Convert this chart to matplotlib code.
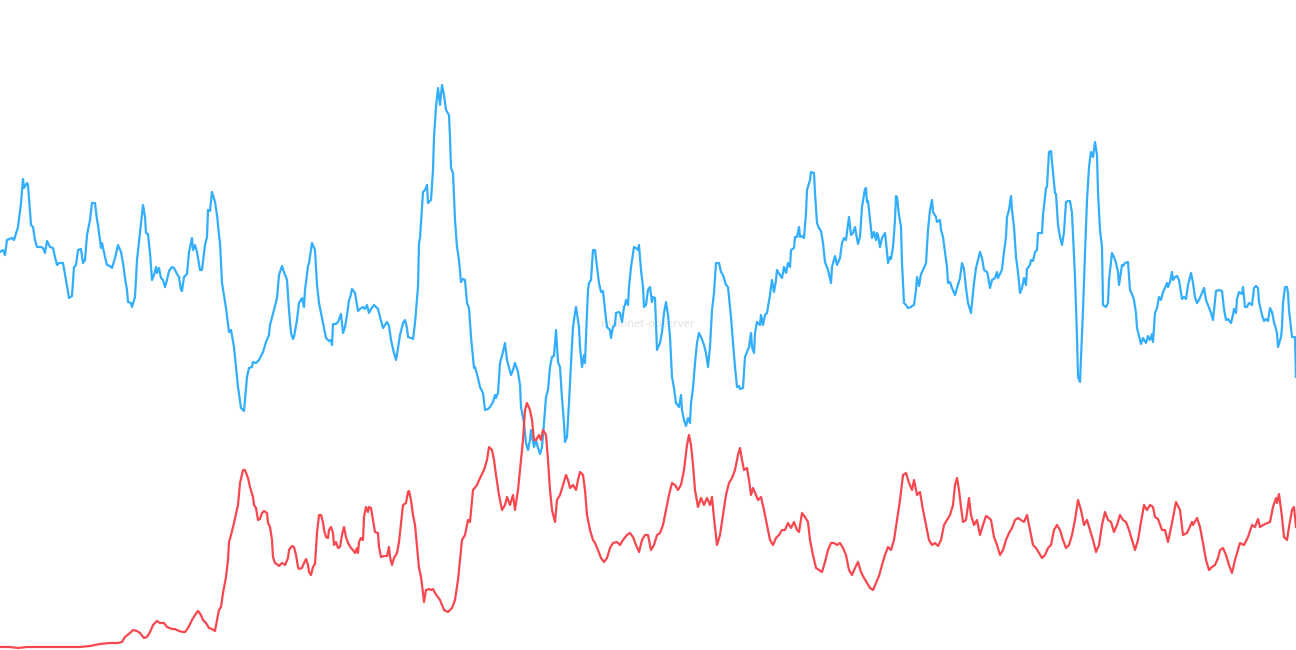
import numpy as np
import matplotlib
matplotlib.use("Agg")
import matplotlib.pyplot as plt

# --- data (day index, value) ---
blue_day = [0, 3, 5, 7, 12, 14, 18, 21, 23, 24, 27, 28, 31, 33, 35, 37, 41, 43, 45, 47, 50, 53, 55, 57, 59, 63,
            66, 69, 72, 74, 76, 78, 81, 83, 85, 87, 90, 92, 95, 97, 98, 101, 102, 105, 107, 110, 112, 115, 118, 121,
            123, 125, 127, 128, 131, 132, 135, 137, 140, 143, 145, 146, 148, 150, 152, 154, 156, 157, 159, 161, 163,
            165, 167, 169, 172, 174, 177, 179, 181, 182, 184, 187, 189, 192, 193, 195, 197, 200, 202, 205, 207, 208,
            210, 212, 215, 217, 219, 220, 222, 226, 229, 231, 234, 238, 241, 244, 247, 249, 252, 253, 256, 259, 263,
            266, 269, 270, 274, 277, 279, 282, 284, 287, 289, 291, 293, 294, 297, 299, 302, 304, 305, 308, 309, 312,
            315, 317, 319, 323, 326, 329, 331, 332, 333, 336, 338, 341, 343, 345, 347, 349, 350, 352, 355, 358, 360,
            363, 365, 367, 369, 371, 374, 378, 380, 383, 385, 387, 389, 391, 394, 396, 398, 400, 403, 405, 407, 408,
            411, 413, 415, 418, 419, 420, 423, 425, 427, 428, 431, 433, 434, 436, 438, 440, 442, 444, 446, 449, 450,
            451, 453, 455, 457, 459, 461, 463, 465, 467, 469, 471, 474, 475, 478, 480, 483, 485, 488, 490, 493, 495,
            496, 498, 500, 503, 505, 507, 511, 513, 515, 518, 520, 521, 524, 526, 528, 530, 531, 534, 536, 538, 540,
            542, 544, 546, 548, 550, 552, 554, 556, 558, 560, 562, 564, 565, 567, 569, 571, 573, 575, 576, 579, 580,
            582, 584, 585, 586, 588, 589, 591, 593, 595, 597, 599, 601, 603, 605, 607, 610, 611, 613, 615, 616, 619,
            620, 622, 624, 625, 626, 628, 629, 631, 634, 636, 638, 639, 641, 643, 644, 646, 648, 650, 652, 653, 655,
            657, 660, 662, 664, 666, 668, 670, 672, 674, 676, 679, 681, 682, 684, 686, 688, 690, 691, 693, 695, 697,
            699, 701, 704, 706, 708, 710, 712, 714, 716, 719, 721, 723, 726, 728, 730, 731, 733, 735, 737, 739, 740,
            743, 745, 747, 749, 751, 752, 754, 755, 757, 760, 761, 763, 765, 767, 770, 772, 774, 776, 777, 780, 782,
            784, 786, 788, 790, 791, 794, 795, 797, 799, 800, 802, 804, 806, 807, 810, 811, 814, 815, 817, 819, 821,
            823, 825, 828, 831, 832, 835, 837, 840, 842, 844, 846, 847, 849, 851, 853, 855, 856, 858, 860, 862, 865,
            866, 867, 868, 870, 872, 874, 876, 877, 878, 880, 882, 885, 886, 888, 890, 891, 893, 895, 896, 897, 899,
            901, 902, 904, 906, 908, 911, 912, 914, 916, 917, 919, 921, 923, 926, 928, 930, 932, 933, 936, 937, 940,
            941, 943, 945, 947, 948, 950, 952, 955, 957, 960, 962, 964, 966, 968, 971, 972, 974, 976, 978, 980, 982,
            984, 987, 988, 990, 992, 995, 997, 998, 1001, 1002, 1004, 1006, 1007, 1009, 1011, 1012, 1014, 1016, 1018,
            1020, 1022, 1024, 1026, 1027, 1030, 1031, 1033, 1035, 1037, 1038, 1040, 1042, 1043, 1046, 1047, 1049,
            1051, 1052, 1055, 1056, 1058, 1060, 1062, 1064, 1066, 1068, 1070, 1072, 1075, 1077, 1078, 1080, 1083,
            1085, 1087, 1089, 1091, 1093, 1095, 1097, 1098, 1100, 1102, 1103, 1106, 1108, 1109, 1112, 1114, 1116,
            1118, 1119, 1122, 1123, 1125, 1128, 1130, 1132, 1134, 1136, 1137, 1139, 1141, 1143, 1146, 1148, 1150,
            1152, 1153, 1155, 1157, 1159, 1161, 1163, 1165, 1167, 1168, 1170, 1172, 1173, 1175, 1177, 1179, 1182,
            1184, 1186, 1188, 1191, 1193, 1195, 1197, 1199, 1202, 1204, 1206, 1208, 1211, 1213, 1214, 1216, 1219,
            1222, 1224, 1226, 1228, 1231, 1233, 1234, 1236, 1237, 1239, 1242, 1243, 1245, 1247, 1249, 1251, 1252,
            1254, 1256, 1258, 1259, 1262, 1264, 1266, 1268, 1270, 1272, 1274, 1277, 1278, 1281, 1282, 1283, 1285,
            1287, 1288, 1289, 1292, 1293, 1295, 1296]
blue_val = [398, 400, 395, 410, 412, 410, 423, 447, 471, 462, 467, 465, 425, 423, 410, 403, 403, 402, 397, 409, 403,
            402, 393, 385, 387, 387, 370, 352, 354, 383, 385, 400, 401, 387, 390, 415, 430, 447, 447, 430, 425, 402,
            407, 393, 385, 384, 382, 392, 405, 398, 387, 372, 360, 348, 347, 343, 353, 390, 417, 445, 433, 417, 416,
            397, 370, 375, 383, 377, 382, 372, 370, 363, 370, 379, 383, 382, 376, 373, 360, 359, 373, 376, 398, 412,
            400, 405, 398, 380, 380, 405, 413, 440, 439, 458, 448, 435, 415, 407, 367, 342, 318, 320, 303, 263, 242,
            239, 273, 282, 283, 288, 287, 290, 298, 308, 315, 325, 340, 352, 375, 384, 378, 370, 340, 317, 311, 313,
            330, 347, 352, 343, 360, 384, 387, 407, 400, 365, 347, 327, 312, 309, 310, 305, 326, 326, 328, 336, 317,
            323, 335, 350, 352, 361, 357, 339, 341, 343, 341, 345, 337, 341, 345, 341, 333, 322, 325, 328, 324, 310,
            297, 290, 302, 315, 327, 330, 322, 313, 312, 311, 327, 363, 407, 412, 458, 460, 465, 447, 450, 480, 513,
            543, 562, 545, 565, 555, 540, 535, 513, 482, 477, 430, 403, 390, 368, 371, 370, 347, 342, 313, 282, 283,
            272, 263, 257, 240, 241, 243, 248, 255, 252, 257, 287, 298, 307, 290, 275, 280, 287, 278, 265, 243, 227,
            207, 200, 210, 220, 203, 210, 202, 196, 203, 227, 253, 260, 283, 293, 294, 320, 288, 283, 252, 227, 208,
            213, 247, 287, 323, 337, 343, 323, 303, 283, 295, 287, 313, 360, 367, 370, 400, 400, 383, 367, 358, 359,
            340, 323, 320, 312, 323, 325, 337, 338, 337, 328, 343, 345, 350, 345, 363, 383, 403, 402, 400, 405, 380,
            363, 343, 345, 360, 363, 348, 353, 352, 300, 307, 318, 337, 348, 335, 313, 273, 262, 247, 243, 255, 240,
            230, 224, 232, 227, 247, 262, 287, 307, 317, 313, 305, 297, 283, 303, 340, 357, 387, 387, 378, 375, 365,
            363, 343, 333, 307, 283, 263, 264, 261, 262, 293, 298, 303, 317, 303, 297, 317, 328, 325, 335, 325, 335,
            337, 355, 370, 358, 370, 380, 375, 372, 383, 377, 387, 383, 400, 402, 413, 413, 423, 413, 414, 412, 437,
            460, 470, 478, 477, 457, 427, 422, 419, 407, 388, 380, 367, 383, 394, 385, 392, 407, 412, 410, 418, 433,
            415, 417, 423, 417, 406, 413, 443, 461, 462, 448, 449, 430, 412, 418, 410, 417, 415, 403, 412, 417, 408,
            387, 393, 391, 403, 430, 454, 453, 435, 423, 387, 347, 345, 342, 343, 344, 345, 360, 373, 364, 376, 380,
            387, 420, 440, 450, 438, 433, 428, 430, 420, 413, 398, 383, 367, 368, 362, 355, 362, 372, 387, 381, 362,
            347, 337, 347, 367, 382, 390, 398, 392, 380, 378, 374, 362, 370, 372, 378, 372, 378, 381, 398, 413, 433,
            440, 454, 440, 423, 393, 378, 357, 362, 372, 365, 381, 385, 390, 389, 398, 400, 417, 417, 417, 435, 462,
            463, 498, 499, 488, 457, 456, 425, 413, 405, 418, 448, 449, 449, 437, 373, 313, 273, 268, 340, 397, 450,
            483, 498, 493, 508, 495, 458, 420, 403, 345, 343, 347, 370, 397, 393, 387, 378, 365, 385, 384, 387, 388,
            360, 356, 350, 337, 322, 314, 306, 312, 307, 314, 310, 316, 308, 337, 342, 353, 350, 358, 362, 367, 363,
            368, 378, 370, 373, 374, 370, 351, 353, 351, 365, 377, 367, 353, 347, 350, 357, 362, 350, 345, 337, 330,
            340, 359, 360, 359, 341, 330, 331, 327, 335, 341, 337, 351, 358, 356, 363, 343, 343, 347, 346, 345, 362,
            364, 362, 348, 335, 329, 331, 329, 342, 338, 328, 317, 303, 313, 323, 347, 363, 363, 357, 340, 313, 313,
            313, 273]

red_day = [0, 10, 18, 27, 50, 80, 90, 100, 110, 118, 122, 125, 130, 133, 137, 140, 144, 147, 150, 153, 157, 160,
           164, 167, 172, 175, 179, 183, 185, 188, 192, 195, 198, 201, 203, 206, 209, 212, 215, 217, 219, 221, 223,
           226, 228, 229, 231, 234, 238, 240, 243, 245, 248, 250, 253, 254, 256, 258, 260, 262, 264, 267, 268, 270,
           272, 273, 275, 278, 279, 282, 284, 285, 288, 289, 292, 294, 296, 298, 299, 302, 304, 306, 308, 309, 311,
           313, 315, 317, 319, 321, 323, 324, 326, 328, 329, 331, 333, 334, 336, 338, 340, 342, 344, 346, 348, 351,
           353, 355, 357, 358, 359, 361, 363, 364, 366, 368, 369, 371, 373, 375, 378, 379, 381, 384, 387, 389, 390,
           392, 394, 397, 399, 401, 403, 406, 408, 409, 411, 413, 415, 417, 419, 421, 423, 424, 426, 429, 431, 433,
           435, 440, 444, 448, 452, 455, 458, 460, 462, 465, 468, 470, 473, 477, 480, 484, 487, 489, 492, 494, 496,
           499, 502, 505, 507, 510, 513, 515, 518, 521, 523, 525, 527, 530, 532, 534, 536, 539, 541, 543, 546, 548,
           550, 552, 555, 557, 560, 563, 566, 568, 570, 573, 576, 578, 580, 583, 585, 587, 590, 593, 595, 598, 601,
           604, 607, 610, 613, 617, 620, 623, 627, 630, 633, 636, 639, 642, 645, 648, 651, 654, 657, 660, 663, 666,
           669, 672, 675, 678, 681, 684, 687, 689, 691, 693, 695, 698, 701, 704, 707, 710, 712, 714, 717, 720, 723,
           726, 729, 732, 735, 738, 740, 742, 744, 747, 749, 751, 753, 756, 758, 761, 764, 767, 770, 773, 776, 779,
           782, 785, 788, 791, 794, 797, 799, 802, 805, 808, 810, 813, 816, 819, 822, 825, 828, 831, 834, 837, 840,
           843, 846, 849, 852, 855, 858, 861, 864, 867, 870, 873, 876, 879, 882, 885, 888, 891, 894, 897, 900, 903,
           906, 909, 912, 914, 917, 920, 923, 926, 929, 932, 935, 938, 941, 944, 947, 950, 953, 955, 957, 959, 961,
           963, 966, 969, 971, 974, 977, 980, 983, 986, 989, 991, 994, 997, 1000, 1003, 1006, 1009, 1012, 1015,
           1018, 1021, 1024, 1027, 1030, 1033, 1036, 1039, 1042, 1045, 1048, 1051, 1054, 1057, 1060, 1063, 1066,
           1069, 1072, 1075, 1078, 1081, 1084, 1087, 1090, 1093, 1096, 1099, 1102, 1105, 1108, 1111, 1114, 1117,
           1120, 1123, 1126, 1129, 1132, 1135, 1138, 1141, 1144, 1147, 1150, 1153, 1155, 1158, 1162, 1165, 1168,
           1172, 1176, 1180, 1183, 1187, 1192, 1193, 1197, 1200, 1203, 1206, 1209, 1212, 1215, 1218, 1220, 1223,
           1226, 1229, 1232, 1235, 1238, 1240, 1244, 1248, 1252, 1255, 1258, 1260, 1265, 1270, 1273, 1276, 1277,
           1279, 1282, 1284, 1287, 1289, 1292, 1294, 1296]
red_val = [3, 3, 2, 3, 3, 3, 4, 6, 7, 7, 8, 13, 17, 20, 19, 17, 12, 13, 18, 25, 29, 27, 27, 23, 21, 21, 19, 18, 18,
           22, 30, 35, 39, 35, 30, 27, 22, 21, 19, 30, 40, 43, 57, 73, 90, 108, 115, 127, 145, 167, 180, 180, 172,
           163, 153, 145, 142, 130, 131, 137, 139, 137, 127, 123, 110, 93, 87, 85, 84, 87, 86, 85, 92, 100, 104,
           103, 95, 83, 81, 82, 87, 91, 85, 78, 75, 83, 86, 117, 135, 135, 128, 120, 113, 112, 120, 123, 117, 105,
           108, 102, 103, 115, 123, 113, 107, 102, 100, 97, 102, 97, 108, 112, 110, 133, 143, 138, 143, 142, 130,
           118, 117, 103, 93, 94, 94, 103, 93, 85, 92, 97, 108, 127, 145, 147, 158, 159, 150, 135, 125, 103, 82, 73,
           57, 48, 60, 61, 60, 61, 57, 50, 40, 38, 42, 50, 70, 90, 110, 115, 130, 128, 160, 165, 172, 180, 190, 203,
           200, 190, 175, 155, 140, 145, 153, 145, 155, 140, 160, 190, 210, 240, 247, 240, 230, 210, 210, 215, 210,
           220, 215, 190, 160, 140, 128, 150, 155, 165, 175, 170, 162, 165, 160, 170, 178, 175, 160, 135, 120, 110,
           107, 100, 92, 88, 92, 102, 107, 108, 105, 110, 115, 117, 113, 105, 98, 110, 115, 115, 100, 105, 115, 117,
           125, 140, 155, 167, 165, 160, 165, 180, 205, 215, 205, 185, 160, 143, 152, 145, 152, 145, 153, 132, 105,
           115, 135, 155, 167, 172, 180, 195, 202, 190, 180, 182, 170, 155, 162, 155, 150, 153, 140, 125, 110, 105,
           112, 115, 120, 120, 127, 122, 128, 120, 118, 137, 133, 128, 110, 95, 82, 80, 78, 88, 100, 107, 107, 105,
           107, 102, 95, 80, 75, 82, 88, 78, 72, 67, 62, 60, 67, 74, 85, 95, 103, 100, 110, 130, 150, 175, 177, 167,
           160, 170, 155, 158, 140, 125, 110, 105, 107, 104, 110, 125, 130, 135, 145, 165, 172, 160, 143, 128, 130,
           152, 135, 125, 130, 115, 125, 134, 132, 130, 113, 105, 95, 100, 110, 117, 122, 130, 132, 130, 128, 135,
           120, 105, 102, 97, 92, 95, 102, 105, 120, 125, 120, 110, 102, 105, 115, 130, 150, 140, 125, 130, 120, 110,
           98, 105, 125, 138, 130, 128, 118, 125, 135, 130, 128, 120, 110, 100, 110, 128, 145, 140, 145, 143, 133,
           131, 120, 120, 108, 127, 148, 140, 115, 117, 128, 125, 132, 123, 107, 90, 80, 83, 85, 92, 100, 102, 95,
           85, 77, 90, 100, 107, 105, 113, 125, 123, 131, 123, 126, 128, 143, 152, 147, 156, 133, 113, 110, 123,
           140, 143, 123]

BLUE = "#33aefc"
RED = "#f7474f"

fig = plt.figure(figsize=(12.96, 6.5), dpi=100)
ax = fig.add_axes([0, 0, 1, 1])

ax.plot(blue_day, blue_val, color=BLUE, lw=1.6, solid_joinstyle="round")
ax.plot(red_day, red_val, color=RED, lw=1.6, solid_joinstyle="round")

# faint watermark in the middle
ax.text(648, 326, "mainnet-observer", ha="center", va="center",
        fontsize=7.5, color="#e2e2e2", zorder=0)

ax.set_xlim(0, 1296)
ax.set_ylim(0, 650)
ax.axis("off")

fig.savefig("out.png", dpi=100, facecolor="white")
